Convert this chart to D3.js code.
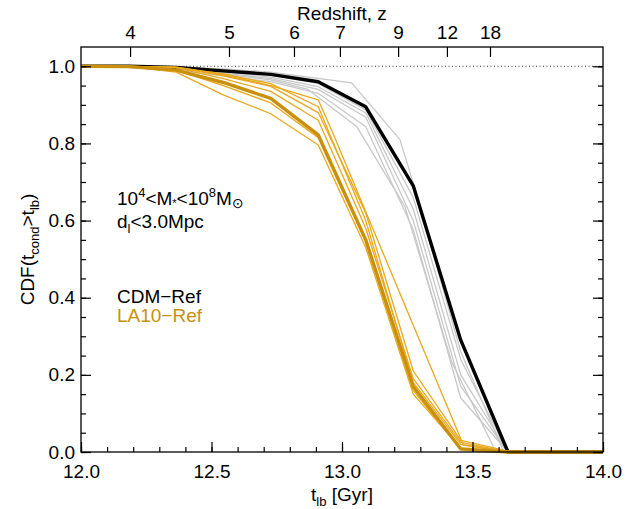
<!DOCTYPE html>
<html><head><meta charset="utf-8">
<script src="https://cdn.jsdelivr.net/npm/d3@7"></script>
<style>
html,body{margin:0;padding:0;background:#fff;}
svg{display:block;}
text{font-family:"Liberation Sans",Arial,Helvetica,sans-serif;}
</style></head>
<body><div id="chart"></div>
<script>
// ---------- data ----------
const tBins = [12.0, 12.182, 12.364, 12.545, 12.727, 12.909, 13.091, 13.273, 13.455, 13.636, 13.818, 14.0];
const cdmRef  = [1.0, 1.0, 0.997, 0.988, 0.979, 0.96, 0.895, 0.69, 0.29, 0.0, 0.0, 0.0];
const la10Ref = [1.0, 0.999, 0.99, 0.958, 0.917, 0.822, 0.55, 0.17, 0.008, 0.0, 0.0, 0.0];

// individual CDM runs (light grey), [t_lb, CDF]
const cdmRuns = [
  [[12,1],[12.364,0.998],[12.545,0.993],[12.727,0.985],[13.037,0.957],[13.222,0.81],[13.273,0.697],[13.455,0.26],[13.62,0],[14,0]],
  [[12,1],[12.182,1],[12.364,0.997],[12.545,0.99],[12.727,0.978],[12.909,0.955],[13.091,0.887],[13.273,0.66],[13.455,0.24],[13.636,0],[14,0]],
  [[12,1],[12.182,1],[12.364,0.996],[12.545,0.986],[12.727,0.972],[12.909,0.947],[13.091,0.879],[13.273,0.63],[13.455,0.2],[13.636,0],[14,0]],
  [[12,1],[12.182,1],[12.364,0.995],[12.545,0.983],[12.727,0.968],[12.909,0.94],[13.091,0.868],[13.273,0.6],[13.455,0.17],[13.636,0],[14,0]],
  [[12,1],[12.182,0.999],[12.364,0.99],[12.545,0.975],[12.727,0.96],[12.909,0.93],[13.091,0.843],[13.273,0.576],[13.455,0.14],[13.636,0],[14,0]],
  [[12,1],[12.364,0.995],[12.545,0.98],[12.727,0.965],[12.87,0.94],[13.056,0.844],[13.241,0.636],[13.42,0.234],[13.59,0],[14,0]]
];
// individual LA10 runs (gold)
const la10Runs = [
  [[12,1],[12.182,0.999],[12.364,0.985],[12.545,0.926],[12.727,0.877],[12.909,0.796],[13.091,0.53],[13.273,0.15],[13.455,0.01],[13.636,0],[14,0]],
  [[12,1],[12.182,1],[12.364,0.996],[12.545,0.968],[12.727,0.935],[12.909,0.86],[13.091,0.58],[13.273,0.19],[13.455,0.025],[13.636,0],[14,0]],
  [[12,1],[12.182,1],[12.364,0.997],[12.545,0.975],[12.727,0.948],[12.909,0.88],[13.091,0.62],[13.273,0.21],[13.455,0.03],[13.636,0.002],[14,0]],
  [[12,1],[12.182,1],[12.364,0.998],[12.545,0.98],[12.727,0.955],[12.909,0.895],[13.091,0.6],[13.273,0.18],[13.455,0.02],[13.636,0],[14,0]],
  [[12,1],[12.182,1],[12.364,0.998],[12.545,0.978],[12.727,0.95],[12.909,0.913],[12.96,0.835],[13.465,0.018],[13.636,0],[14,0]],
  [[12,1],[12.182,0.999],[12.364,0.99],[12.545,0.95],[12.727,0.905],[12.909,0.815],[13.091,0.545],[13.273,0.16],[13.455,0.006],[13.636,0],[14,0]]
];

const xMajorTicks = [12.0, 12.5, 13.0, 13.5, 14.0];
const yMajorTicks = [0.0, 0.2, 0.4, 0.6, 0.8, 1.0];
const zLabels = ["4", "5", "6", "7", "9", "12", "18"];
const zTickTimes = [12.188, 12.567, 12.816, 12.992, 13.215, 13.402, 13.567];

// ---------- layout ----------
const W = 639, H = 509;
const L = 81, R = 603, T = 47, B = 452;
const FS = 19;
const cGrey = "#c8c8c8", cGoldThin = "#e8a81c", cGold = "#c8900c";

const svg = d3.select("#chart").append("svg").attr("width", W).attr("height", H);
const x = d3.scaleLinear().domain([12, 14]).range([L, R]);
const y = d3.scaleLinear().domain([0, 1.05]).range([B, T]);

// dotted reference line at 1.0
svg.append("line").attr("x1", L).attr("x2", R).attr("y1", y(1)).attr("y2", y(1))
  .attr("stroke", "#333").attr("stroke-width", 1).attr("stroke-dasharray", "1,2.5");

const line = d3.line().x(d => x(d[0])).y(d => y(d[1]));
const zipBins = v => tBins.map((t, i) => [t, v[i]]);

const gLines = svg.append("g").attr("fill", "none").attr("stroke-linejoin", "round");
cdmRuns.forEach(r => gLines.append("path").attr("d", line(r)).attr("stroke", cGrey).attr("stroke-width", 1.3));
gLines.append("path").attr("d", line(zipBins(cdmRef))).attr("stroke", "#000").attr("stroke-width", 3.4);
la10Runs.forEach(r => gLines.append("path").attr("d", line(r)).attr("stroke", cGoldThin).attr("stroke-width", 1.3));
gLines.append("path").attr("d", line(zipBins(la10Ref))).attr("stroke", cGold).attr("stroke-width", 3.4);

// ---------- axes ----------
function styleAxis(g) {
  g.select(".domain").remove();
  g.selectAll("line").attr("stroke", "#000").attr("stroke-width", 1.2);
  g.selectAll("text").attr("font-size", FS).attr("fill", "#000")
    .attr("font-family", '"Liberation Sans",Arial,Helvetica,sans-serif');
}
const xMinor = d3.range(0, 21).map(i => 12 + i * 0.1);
const yMinor = d3.range(0, 21).map(i => i * 0.05);

svg.append("g").attr("transform", `translate(0,${B})`)
  .call(d3.axisBottom(x).tickValues(xMinor).tickSize(-5).tickFormat("")).call(styleAxis);
svg.append("g").attr("transform", `translate(0,${B})`)
  .call(d3.axisBottom(x).tickValues(xMajorTicks).tickSize(-10).tickPadding(13).tickFormat(d3.format(".1f"))).call(styleAxis);

svg.append("g").attr("transform", `translate(${L},0)`)
  .call(d3.axisLeft(y).tickValues(yMinor).tickSize(-5).tickFormat("")).call(styleAxis);
svg.append("g").attr("transform", `translate(${L},0)`)
  .call(d3.axisLeft(y).tickValues(yMajorTicks).tickSize(-10).tickPadding(6).tickFormat(d3.format(".1f"))).call(styleAxis);

svg.append("g").attr("transform", `translate(${R},0)`)
  .call(d3.axisRight(y).tickValues(yMinor).tickSize(-5).tickFormat("")).call(styleAxis);
svg.append("g").attr("transform", `translate(${R},0)`)
  .call(d3.axisRight(y).tickValues(yMajorTicks).tickSize(-10).tickFormat("")).call(styleAxis);

svg.append("g").attr("transform", `translate(0,${T})`)
  .call(d3.axisTop(x).tickValues(zTickTimes).tickSize(-10).tickPadding(8)
    .tickFormat((d, i) => zLabels[i])).call(styleAxis);

// frame
svg.append("rect").attr("x", L).attr("y", T).attr("width", R - L).attr("height", B - T)
  .attr("fill", "none").attr("stroke", "#000").attr("stroke-width", 1.3);

// ---------- titles ----------
svg.append("text").attr("x", (L + R) / 2).attr("y", 20).attr("text-anchor", "middle")
  .attr("font-size", FS).text("Redshift, z");

const xt = svg.append("text").attr("x", (L + R) / 2).attr("y", 501).attr("text-anchor", "middle").attr("font-size", FS);
xt.append("tspan").text("t");
xt.append("tspan").attr("font-size", 13).attr("dy", 5).text("lb");
xt.append("tspan").attr("dy", -5).text(" [Gyr]");

const yt = svg.append("text").attr("transform", `translate(34,${(T + B) / 2}) rotate(-90)`)
  .attr("text-anchor", "middle").attr("font-size", FS);
yt.append("tspan").text("CDF(t");
yt.append("tspan").attr("font-size", 13).attr("dy", 5).text("cond");
yt.append("tspan").attr("dy", -5).text(">t");
yt.append("tspan").attr("font-size", 13).attr("dy", 5).text("lb");
yt.append("tspan").attr("dy", -5).text(")");

// ---------- annotations ----------
const a1 = svg.append("text").attr("x", 117).attr("y", 205).attr("font-size", FS);
a1.append("tspan").text("10");
a1.append("tspan").attr("font-size", 13).attr("dy", -8).text("4");
a1.append("tspan").attr("dy", 8).text("<M");
a1.append("tspan").attr("font-size", 11).attr("dy", 2).text("*");
a1.append("tspan").attr("dy", -2).text("<10");
a1.append("tspan").attr("font-size", 13).attr("dy", -8).text("8");
a1.append("tspan").attr("dy", 8).text("M");
a1.append("tspan").attr("font-size", 14).attr("dy", 3).attr("font-family", "DejaVu Sans").text("⊙");

const a2 = svg.append("text").attr("x", 117).attr("y", 228).attr("font-size", FS);
a2.append("tspan").text("d");
a2.append("tspan").attr("font-size", 13).attr("dy", 5).text("l");
a2.append("tspan").attr("dy", -5).text("<3.0Mpc");

svg.append("text").attr("x", 117).attr("y", 303).attr("font-size", FS).attr("fill", "#000").text("CDM−Ref");
svg.append("text").attr("x", 117).attr("y", 322).attr("font-size", FS).attr("fill", cGold).text("LA10−Ref");
</script></body></html>
